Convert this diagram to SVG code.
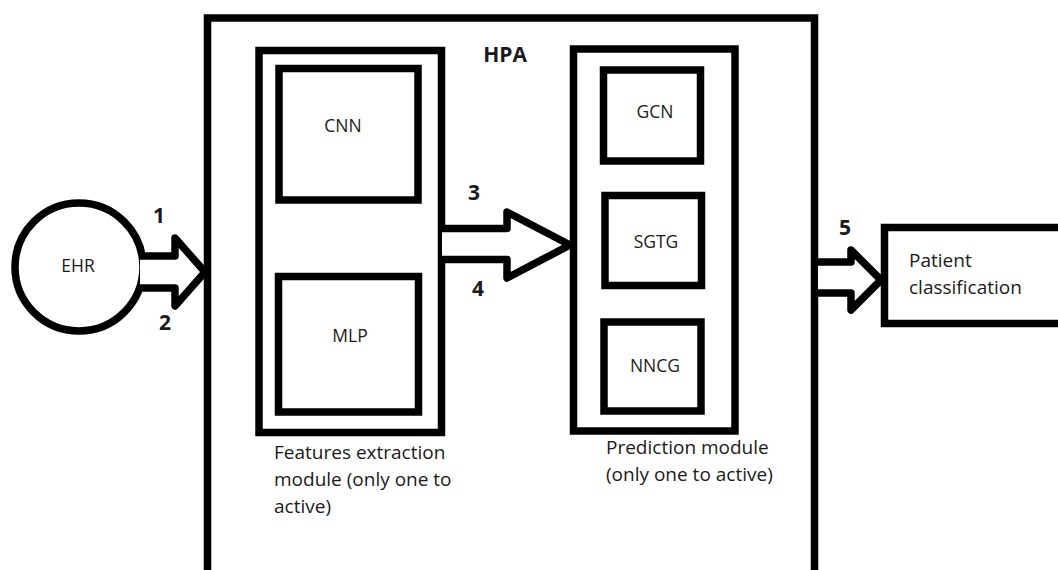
<svg xmlns="http://www.w3.org/2000/svg" width="1058" height="570" viewBox="0 0 1058 570">
  <style>
    .box { fill: none; stroke: #000; stroke-width: 7.5; }
    .arrow { fill: #fff; stroke: #000; stroke-width: 7.5; stroke-linejoin: round; }
    .lbl { font-family: "Open Sans", "Liberation Sans", Arial, sans-serif; font-size: 17.5px; fill: #1a1a1a; text-anchor: middle; }
    .cap { font-family: "Open Sans", "Liberation Sans", Arial, sans-serif; font-size: 19px; fill: #1a1a1a; }
    .num { font-family: "Open Sans", "Liberation Sans", Arial, sans-serif; font-size: 21px; font-weight: bold; fill: #1a1a1a; text-anchor: middle; }
  </style>
  <rect width="1058" height="570" fill="#fff"/>

  <!-- HPA container (open at the bottom edge) -->
  <g id="hpa">
    <path class="box" d="M207.5,580 V18 H814.5 V580"/>
    <text x="505" y="62" class="num" style="font-size:21px">HPA</text>
  </g>

  <!-- Feature extraction module -->
  <g id="features-module">
    <rect class="box" x="259" y="50.5" width="182.5" height="382"/>
    <text class="cap" x="274" y="459">Features extraction</text>
    <text class="cap" x="274" y="486">module (only one to</text>
    <text class="cap" x="274" y="513">active)</text>
  </g>
  <g id="cnn">
    <rect class="box" x="279" y="68.5" width="139" height="131.5"/>
    <text class="lbl" x="343" y="132">CNN</text>
  </g>
  <g id="mlp">
    <rect class="box" x="278.5" y="276.5" width="140" height="135.5"/>
    <text class="lbl" x="350" y="342">MLP</text>
  </g>

  <!-- Prediction module -->
  <g id="prediction-module">
    <rect class="box" x="573.5" y="49" width="161.5" height="382"/>
    <text class="cap" x="606" y="454">Prediction module</text>
    <text class="cap" x="606" y="481">(only one to active)</text>
  </g>
  <g id="gcn">
    <rect class="box" x="603.5" y="70" width="97" height="91"/>
    <text class="lbl" x="655" y="118">GCN</text>
  </g>
  <g id="sgtg">
    <rect class="box" x="605" y="195.5" width="96.5" height="90"/>
    <text class="lbl" x="656" y="248">SGTG</text>
  </g>
  <g id="nncg">
    <rect class="box" x="604" y="322" width="97" height="89"/>
    <text class="lbl" x="655" y="372">NNCG</text>
  </g>

  <!-- Input and output -->
  <g id="ehr">
    <circle class="box" cx="79" cy="267" r="64"/>
    <text class="lbl" x="78" y="272">EHR</text>
  </g>
  <g id="patient-classification">
    <rect class="box" x="884.5" y="227.5" width="190" height="96"/>
    <text class="cap" x="909" y="267">Patient</text>
    <text class="cap" x="909" y="294">classification</text>
  </g>

  <!-- Block arrows between stages -->
  <g id="connectors">
    <path class="arrow" d="M140,256 H175 V238 L205,272 L175,306 V288 H140"/>
    <path class="arrow" d="M442,228.5 H507 V212 L570,245 L507,278 V259.5 H442"/>
    <path class="arrow" d="M818,262 H851 V250 L881,280 L851,310 V293 H818"/>
    <text class="num" x="159" y="223">1</text>
    <text class="num" x="165" y="330">2</text>
    <text class="num" x="474" y="200">3</text>
    <text class="num" x="478" y="296">4</text>
    <text class="num" x="845" y="235">5</text>
  </g>
</svg>
